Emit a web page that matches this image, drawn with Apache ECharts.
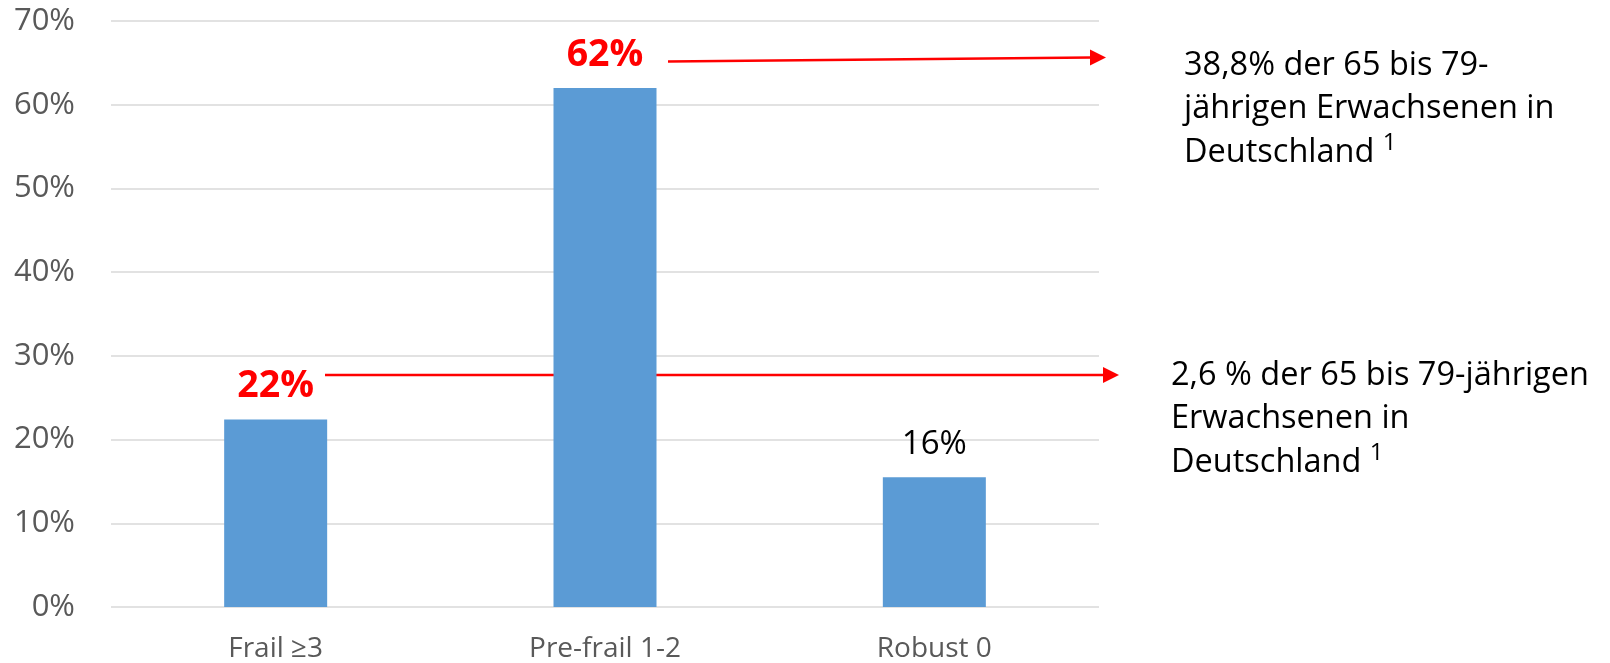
<!DOCTYPE html>
<html>
<head>
<meta charset="utf-8">
<script src="https://cdn.jsdelivr.net/npm/echarts@6/dist/echarts.min.js"></script>
<style>
  html, body { margin: 0; padding: 0; background: #fff; }
  #chart { width: 1610px; height: 663px; }
</style>
</head>
<body>
<div id="chart"></div>
<script>
// Frailty categories and share of participants (%)
const categories = ["Frail \u22653", "Pre-frail 1-2", "Robust 0"];
const shares = [22.4, 62.0, 15.5];
const labelColors = ["#ff0000", "#ff0000", "#000000"];
const labelBold = [true, true, false];
const yTicks = [0, 10, 20, 30, 40, 50, 60, 70];

const noteTop = ["38,8% der 65 bis 79-", "jährigen Erwachsenen in", "Deutschland "];
const noteBottom = ["2,6 % der 65 bis 79-jährigen", "Erwachsenen in", "Deutschland "];

const FONT = "'Open Sans', 'Noto Sans', sans-serif";

const chart = echarts.init(document.getElementById("chart"));

function noteText(lines) {
  const parts = lines.map(l => `{a|${l}}`);
  parts[parts.length - 1] += "{s|1}";
  return parts.join("\n");
}

function arrow(x1, y1, x2, y2) {
  // shaft + triangle head pointing right
  const headLen = 16, headHalf = 8;
  return [
    {
      type: "line",
      shape: { x1: x1, y1: y1, x2: x2 - headLen + 1, y2: y2 },
      style: { stroke: "#ff0000", lineWidth: 2.5 }
    },
    {
      type: "polygon",
      shape: { points: [[x2 - headLen, y2 - headHalf], [x2, y2], [x2 - headLen, y2 + headHalf]] },
      style: { fill: "#ff0000" }
    }
  ];
}

const richNote = {
  a: { fontFamily: FONT, fontSize: 32.5, color: "#000", lineHeight: 43.5 },
  s: { fontFamily: FONT, fontSize: 24, color: "#000", lineHeight: 30, verticalAlign: "top" }
};

chart.setOption({
  animation: false,
  grid: { left: 111, right: 511, top: 21, bottom: 55 },
  xAxis: {
    type: "category",
    data: categories,
    axisLine: { show: false },
    axisTick: { show: false },
    axisLabel: { color: "#595959", fontFamily: FONT, fontSize: 28, margin: 28 }
  },
  yAxis: {
    type: "value",
    min: yTicks[0],
    max: yTicks[yTicks.length - 1],
    interval: 10,
    axisLine: { show: false },
    axisTick: { show: false },
    axisLabel: { color: "#595959", fontFamily: FONT, fontSize: 31, margin: 36, formatter: "{value}%" },
    splitLine: { lineStyle: { color: "#d9d9d9", width: 1.5 } }
  },
  series: [{
    type: "bar",
    barWidth: 103,
    itemStyle: { color: "#5b9bd5" },
    data: shares.map((v, i) => ({
      value: v,
      label: {
        show: true,
        position: "top",
        distance: labelBold[i] ? 14 : 16,
        color: labelColors[i],
        fontWeight: labelBold[i] ? "bold" : "normal",
        fontFamily: FONT,
        fontSize: labelBold[i] ? 37.5 : 33,
        formatter: () => Math.round(v) + "%"
      }
    }))
  }],
  graphic: [
    ...arrow(668, 61.5, 1106, 57.5),
    ...arrow(325, 375, 1119, 375),
    {
      type: "text",
      left: 1184,
      top: 49,
      style: { text: noteText(noteTop), rich: richNote }
    },
    {
      type: "text",
      left: 1171,
      top: 359,
      style: { text: noteText(noteBottom), rich: richNote }
    }
  ]
});
</script>
</body>
</html>
